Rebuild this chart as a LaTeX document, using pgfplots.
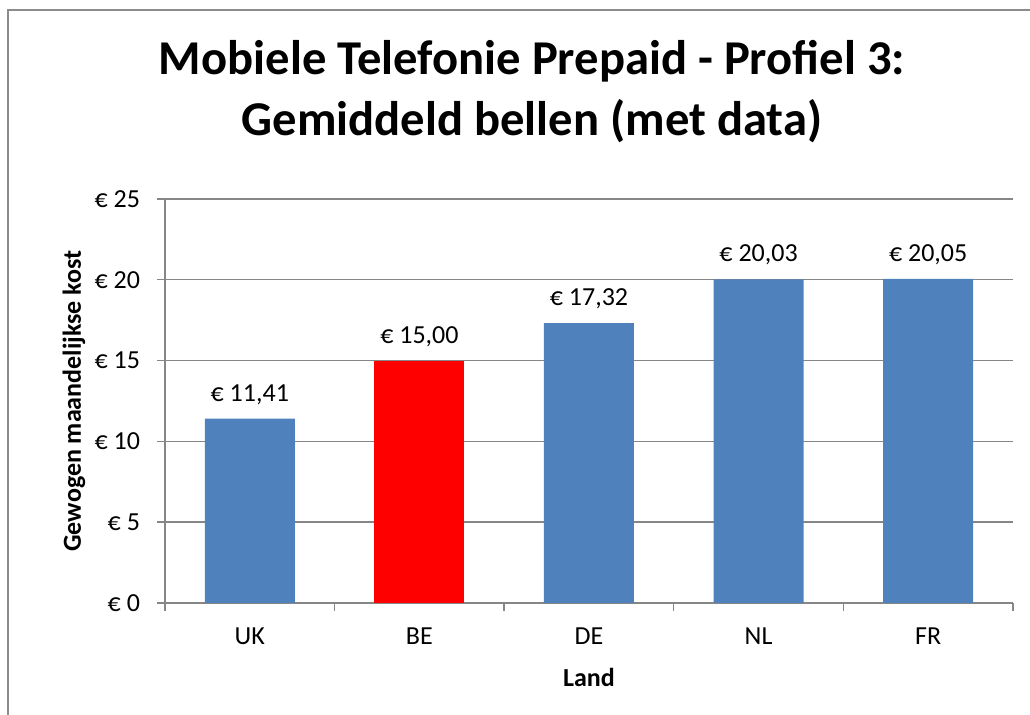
\documentclass[border=0pt]{standalone}
\usepackage{pgfplots}
\pgfplotsset{compat=1.18}
\usepackage{fontspec}
\setmainfont{Carlito}
\definecolor{barblue}{HTML}{4F81BD}
\definecolor{gridgray}{HTML}{868686}
\definecolor{framegray}{HTML}{8C8C8C}
\begin{document}
\begin{tikzpicture}[x=1pt,y=1pt]
\useasboundingbox (0,0) rectangle (515,357.5);
\begin{scope}
\clip (0,0) rectangle (515,357.5);
\draw[framegray, line width=1pt] (4,-20) rectangle (540,352.5);
\end{scope}
\node[anchor=base, font=\bfseries\fontsize{24.3}{28}\selectfont] at (266,320) {Mobiele Telefonie Prepaid - Profiel 3:};
\node[anchor=base, font=\bfseries\fontsize{24.3}{28}\selectfont] at (266,289.5) {Gemiddeld bellen (met data)};
\begin{axis}[
  at={(82.5pt,56pt)}, anchor=south west,
  scale only axis, width=424pt, height=202pt,
  xmin=-0.5, xmax=4.5, ymin=0, ymax=25,
  axis x line*=bottom, axis y line*=left,
  axis line style={gridgray, line width=0.7pt},
  ymajorgrids, grid style={gridgray, line width=0.7pt},
  ytick={0,5,10,15,20,25},
  yticklabels={€ 0,€ 5,€ 10,€ 15,€ 20,€ 25},
  xtick={0,1,2,3,4},
  xticklabels={UK,BE,DE,NL,FR},
  minor xtick={-0.5,0.5,1.5,2.5,3.5,4.5},
  tick align=outside,
  major tick length=4pt, minor tick length=4pt,
  major x tick style={draw=none},
  minor x tick style={gridgray, line width=0.7pt},
  major y tick style={gridgray, line width=0.7pt},
  tick label style={font=\fontsize{13}{15}\selectfont, text=black},
  yticklabel style={xshift=-5pt},
  xticklabel style={yshift=-5pt},
  xlabel={Land}, ylabel={Gewogen maandelijkse kost},
  every axis x label/.style={at={(axis description cs:0.5,-0.1856)}, anchor=center, font=\bfseries\fontsize{13}{15}\selectfont},
  every axis y label/.style={at={(axis description cs:-0.1073,0.5)}, rotate=90, anchor=center, font=\bfseries\fontsize{13}{15}\selectfont},
  nodes near coords style={font=\fontsize{13}{15}\selectfont, text=black, yshift=3.5pt},
]
\addplot[ybar, bar shift=0pt, bar width=45pt, fill=barblue, draw=none,
  nodes near coords, point meta=explicit symbolic]
  coordinates {(0,11.41)[€ 11,41] (2,17.32)[€ 17,32] (3,20.03)[€ 20,03] (4,20.05)[€ 20,05]};
\addplot[ybar, bar shift=0pt, bar width=45pt, fill=red, draw=none,
  nodes near coords, point meta=explicit symbolic]
  coordinates {(1,15.00)[€ 15,00]};
\end{axis}
\end{tikzpicture}
\end{document}
